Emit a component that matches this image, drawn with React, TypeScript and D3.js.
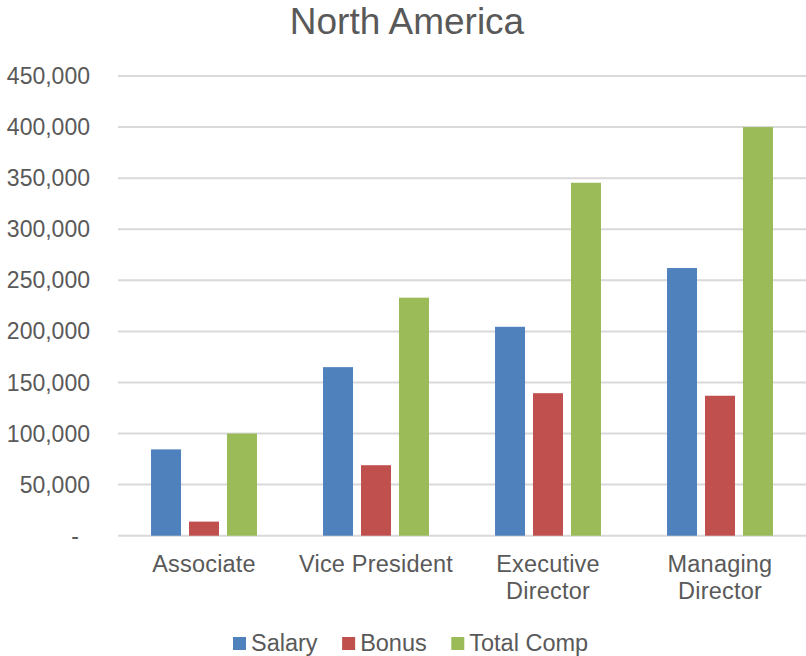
import { useEffect, useRef } from "react";
import * as d3 from "d3";

const categories = ["Associate", "Vice President", "Executive Director", "Managing Director"];
const seriesNames = ["Salary", "Bonus", "Total Comp"];
const salary = [84500, 165000, 204500, 262000];
const bonus = [13800, 69000, 139500, 137000];
const totalComp = [100000, 233000, 345500, 400000];
const yTicks = [0, 50000, 100000, 150000, 200000, 250000, 300000, 350000, 400000, 450000];
const colors = ["#4F81BD", "#C0504D", "#9BBB59"];

const App = () => {
  const ref = useRef<SVGSVGElement>(null);

  useEffect(() => {
    if (!ref.current) return;

    const width = 806;
    const height = 656;
    const marginLeft = 118;
    const marginRight = 0;
    const marginTop = 76;
    const marginBottom = 120;
    const font = "'Liberation Sans', Arial, sans-serif";
    const textColor = "#595959";

    const svg = d3.select(ref.current);
    svg.selectAll("*").remove();

    const values = [salary, bonus, totalComp];
    const rows = categories.map((c, i) => ({
      category: c,
      vals: seriesNames.map((s, j) => ({ key: s, value: values[j][i], color: colors[j] })),
    }));

    const x0 = d3
      .scaleBand<string>()
      .domain(categories)
      .range([marginLeft, width - marginRight])
      .paddingInner(0.384)
      .paddingOuter(0.192);

    const x1 = d3
      .scaleBand<string>()
      .domain(seriesNames)
      .range([0, x0.bandwidth()])
      .paddingInner(0.21);

    const y = d3
      .scaleLinear()
      .domain([0, 450000])
      .range([height - marginBottom - 0.3, marginTop]);

    // title
    svg
      .append("text")
      .attr("x", 407)
      .attr("y", 34)
      .attr("text-anchor", "middle")
      .attr("font-family", font)
      .attr("font-size", 37)
      .attr("fill", textColor)
      .text("North America");

    // gridlines + y labels
    const yAxis = svg.append("g");
    yAxis
      .selectAll("line")
      .data(yTicks)
      .join("line")
      .attr("x1", marginLeft)
      .attr("x2", width - marginRight)
      .attr("y1", (d) => y(d))
      .attr("y2", (d) => y(d))
      .attr("stroke", "#D9D9D9")
      .attr("stroke-width", 2);

    const fmt = d3.format(",");
    yAxis
      .selectAll("text")
      .data(yTicks)
      .join("text")
      .attr("x", (d) => (d === 0 ? 79 : 90))
      .attr("y", (d) => y(d))
      .attr("dy", "0.35em")
      .attr("text-anchor", "end")
      .attr("font-family", font)
      .attr("font-size", 23)
      .attr("fill", textColor)
      .text((d) => (d === 0 ? "-" : fmt(d)));

    // bars
    svg
      .append("g")
      .selectAll("g")
      .data(rows)
      .join("g")
      .attr("transform", (d) => `translate(${x0(d.category)},0)`)
      .selectAll("rect")
      .data((d) => d.vals)
      .join("rect")
      .attr("x", (d) => x1(d.key) ?? 0)
      .attr("width", x1.bandwidth())
      .attr("y", (d) => y(d.value))
      .attr("height", (d) => y(0) - y(d.value))
      .attr("fill", (d) => d.color);

    // category labels
    const catG = svg.append("g");
    categories.forEach((c) => {
      const cx = (x0(c) ?? 0) + x0.bandwidth() / 2;
      const t = catG
        .append("text")
        .attr("x", cx)
        .attr("y", 572)
        .attr("text-anchor", "middle")
        .attr("font-family", font)
        .attr("font-size", 23.5)
        .attr("letter-spacing", 0.2)
        .attr("fill", textColor)
        .text(c);
      const w = (t.node() as SVGTextElement).getComputedTextLength();
      if (w > x0.step() - 8) {
        t.text(null);
        c.split(" ").forEach((word, i) => {
          t.append("tspan")
            .attr("x", cx)
            .attr("dy", i === 0 ? 0 : 27)
            .text(word);
        });
      }
    });

    // legend
    const legend = svg.append("g");
    let lx = 233;
    seriesNames.forEach((s, i) => {
      legend
        .append("rect")
        .attr("x", lx)
        .attr("y", 637)
        .attr("width", 13)
        .attr("height", 13)
        .attr("fill", colors[i]);
      const t = legend
        .append("text")
        .attr("x", lx + 18)
        .attr("y", 651)
        .attr("font-family", font)
        .attr("font-size", 23.5)
        .attr("fill", textColor)
        .text(s);
      lx += 18 + (t.node() as SVGTextElement).getComputedTextLength() + 24.5;
    });
  }, []);

  return (
    <svg
      ref={ref}
      width={806}
      height={656}
      style={{ position: "absolute", left: 0, top: 0, display: "block", background: "#fff" }}
    />
  );
};

export default App;
